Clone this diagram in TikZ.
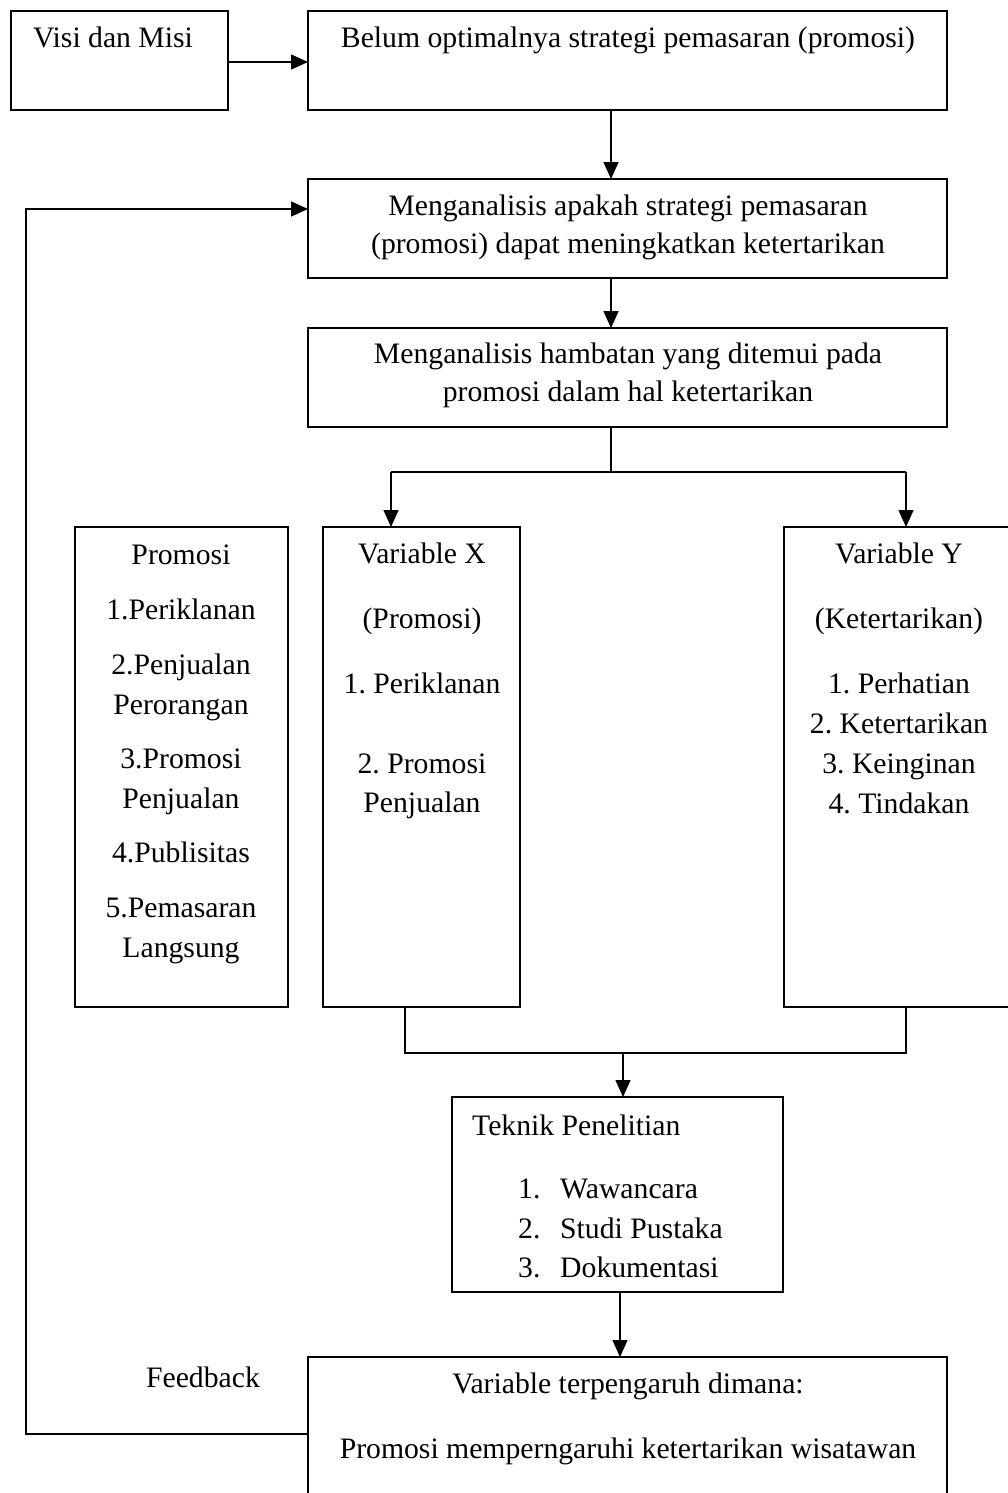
\documentclass[tikz,border=0pt]{standalone}
\usepackage{fontspec}
\setmainfont{Liberation Serif}
\usetikzlibrary{arrows.meta}
\frenchspacing
\begin{document}
\frenchspacing
\begin{tikzpicture}[x=1pt,y=-1pt,
  box/.style={draw,line width=1.5pt,rectangle,inner sep=0pt,outer sep=0pt},
  txt/.style={anchor=base,inner sep=0pt,font=\fontsize{29.7}{38}\selectfont},
  txtl/.style={anchor=base west,inner sep=0pt,font=\fontsize{29.7}{38}\selectfont},
  conn/.style={line width=1.5pt},
  arr/.style={line width=1.5pt,-{Triangle[length=17pt,width=15pt]}}]
\useasboundingbox (0,0) rectangle (1007,1493);
% boxes
\node[box,minimum width=217pt,minimum height=99pt] (visi) at (119.5,60.5) {};
\node[box,minimum width=639pt,minimum height=99pt] (belum) at (627.5,60.5) {};
\node[box,minimum width=639pt,minimum height=99pt] (m1) at (627.5,228.5) {};
\node[box,minimum width=639pt,minimum height=99pt] (m2) at (627.5,377.5) {};
\node[box,minimum width=213pt,minimum height=480pt] (prom) at (181.5,767) {};
\node[box,minimum width=197pt,minimum height=480pt] (varx) at (421.5,767) {};
\node[box,minimum width=231pt,minimum height=480pt] (vary) at (899.5,767) {};
\node[box,minimum width=331pt,minimum height=195pt] (tek) at (617.5,1194.5) {};
\node[box,minimum width=639pt,minimum height=148pt] (bot) at (627.5,1431) {};
% texts
\node[txt] (tvisi) at (113,48) {Visi dan Misi};
\node[txt] (tbelum) at (628,48) {Belum optimalnya strategi pemasaran (promosi)};
\node[txt] (tm1a) at (628,215) {Menganalisis apakah strategi pemasaran};
\node[txt] (tm1b) at (628,253) {(promosi) dapat meningkatkan ketertarikan};
\node[txt] (tm2a) at (628,363) {Menganalisis hambatan yang ditemui pada};
\node[txt] (tm2b) at (628,401) {promosi dalam hal ketertarikan};
% promosi list
\node[txt] (p0) at (181,564) {Promosi};
\node[txt] (p1) at (181,619) {1.Periklanan};
\node[txt] (p2a) at (181,674) {2.Penjualan};
\node[txt] (p2b) at (181,714) {Perorangan};
\node[txt] (p3a) at (181,768) {3.Promosi};
\node[txt] (p3b) at (181,808) {Penjualan};
\node[txt] (p4) at (181,862) {4.Publisitas};
\node[txt] (p5a) at (181,917) {5.Pemasaran};
\node[txt] (p5b) at (181,957) {Langsung};
% variable X
\node[txt] (x0) at (422,563) {Variable X};
\node[txt] (x1) at (422,628) {(Promosi)};
\node[txt] (x2) at (422,693) {1. Periklanan};
\node[txt] (x3a) at (422,773) {2. Promosi};
\node[txt] (x3b) at (422,812) {Penjualan};
% variable Y
\node[txt] (y0) at (899,563) {Variable Y};
\node[txt] (y1) at (899,628) {(Ketertarikan)};
\node[txt] (y2) at (899,693) {1. Perhatian};
\node[txt] (y3) at (899,733) {2. Ketertarikan};
\node[txt] (y4) at (899,773) {3. Keinginan};
\node[txt] (y5) at (899,813) {4. Tindakan};
% teknik
\node[txtl] (k0) at (472,1135) {Teknik Penelitian};
\node[txtl] (k1n) at (518,1198) {1.};
\node[txtl] (k1) at (560,1198) {Wawancara};
\node[txtl] (k2n) at (518,1238) {2.};
\node[txtl] (k2) at (560,1238) {Studi Pustaka};
\node[txtl] (k3n) at (518,1277) {3.};
\node[txtl] (k3) at (560,1277) {Dokumentasi};
% bottom
\node[txt] (b1) at (628,1393) {Variable terpengaruh dimana:};
\node[txt] (b2) at (628,1458) {Promosi memperngaruhi ketertarikan wisatawan};
\node[txt] (fbt) at (203,1387) {Feedback};
% coordinates
\coordinate (ya) at (0,62);
\coordinate (xa) at (611,0);
\coordinate (sm) at (611,472);
\coordinate (sl) at (391,472);
\coordinate (sr) at (906,472);
\coordinate (ml) at (405,1053);
\coordinate (mr) at (906,1053);
\coordinate (mm) at (623,1053);
\coordinate (xb) at (620,0);
\coordinate (fb1) at (26,1434);
\coordinate (fb2) at (26,209);
% connectors
\draw[arr] (visi.east |- ya) -- (belum.west |- ya);
\draw[arr] (belum.south -| xa) -- (m1.north -| xa);
\draw[arr] (m1.south -| xa) -- (m2.north -| xa);
\draw[conn] (m2.south -| xa) -- (sm);
\draw[conn] (sl) -- (sr);
\draw[arr] (sl) -- (varx.north -| sl);
\draw[arr] (sr) -- (vary.north -| sr);
\draw[conn] (varx.south -| ml) -- (ml) -- (mr) -- (vary.south -| mr);
\draw[arr] (mm) -- (tek.north -| mm);
\draw[arr] (tek.south -| xb) -- (bot.north -| xb);
\draw[arr] (bot.west |- fb1) -- (fb1) -- (fb2) -- (m1.west |- fb2);
\end{tikzpicture}
\end{document}
